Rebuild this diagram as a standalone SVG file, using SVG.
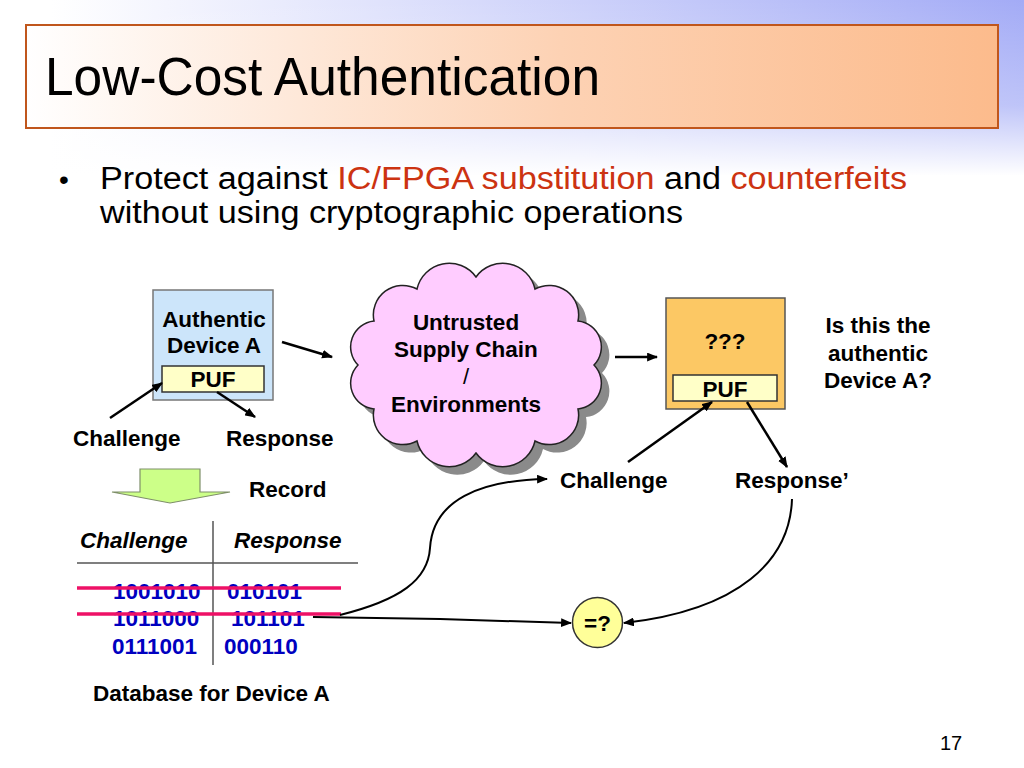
<svg xmlns="http://www.w3.org/2000/svg" width="1024" height="768" viewBox="0 0 1024 768">
<defs>
<linearGradient id="bgH" x1="0" y1="0" x2="1" y2="0">
<stop offset="0.05" stop-color="#ffffff"/>
<stop offset="1" stop-color="#a3abf6"/>
</linearGradient>
<linearGradient id="bgV" x1="0" y1="0" x2="0" y2="1">
<stop offset="0" stop-color="#ffffff" stop-opacity="0"/>
<stop offset="0.6" stop-color="#ffffff" stop-opacity="0.3"/>
<stop offset="1" stop-color="#ffffff" stop-opacity="1"/>
</linearGradient>
<linearGradient id="titleG" x1="0" y1="0" x2="1" y2="0">
<stop offset="0" stop-color="#ffffff"/>
<stop offset="0.55" stop-color="#fdd2b4"/>
<stop offset="1" stop-color="#fcbb8c"/>
</linearGradient>
<marker id="ah" viewBox="0 0 10 8" refX="9" refY="4" markerWidth="11" markerHeight="9" markerUnits="userSpaceOnUse" orient="auto">
<path d="M0,0 L10,4 L0,8 z" fill="#000"/>
</marker>
<path id="cloud" d="M358,365 A26,26 0 0 1 374,321 A29.5,29.5 0 0 1 417,289 A33,33 0 0 1 476,277 A33,33 0 0 1 535,289 A29.5,29.5 0 0 1 578,321 A26,26 0 0 1 594,365 A26,26 0 0 1 578,409 A29.5,29.5 0 0 1 535,441 A33,33 0 0 1 476,453 A33,33 0 0 1 417,441 A29.5,29.5 0 0 1 374,409 A26,26 0 0 1 358,365 Z"/>
</defs>
<style>
text{font-family:"Liberation Sans",Arial,sans-serif;}
.b{font-weight:bold;font-size:22.5px;fill:#000;}
.bi{font-weight:bold;font-style:italic;font-size:22.5px;fill:#000;}
.num{font-weight:bold;font-size:22.5px;fill:#0000c0;}
.thin{font-weight:normal;font-size:22px;fill:#000;}
.red{fill:#cc3311;}
.conn{fill:none;stroke:#000;stroke-width:2.5;}
.curve{fill:none;stroke:#000;stroke-width:2;}
.puf{fill:#ffffc8;stroke:#333;stroke-width:1.5;}
.strike{stroke:#ee1166;stroke-width:3.5;}
</style>

<rect x="0" y="0" width="1024" height="768" fill="#fff"/>
<rect x="0" y="0" width="1024" height="175" fill="url(#bgH)"/>
<rect x="0" y="0" width="1024" height="176" fill="url(#bgV)"/>

<g id="title">
<rect x="26" y="25" width="972" height="103" fill="url(#titleG)" stroke="#c0561c" stroke-width="2"/>
<text x="45" y="95" font-size="53" textLength="555" lengthAdjust="spacingAndGlyphs" fill="#000">Low-Cost Authentication</text>
</g>

<g id="bullet">
<text x="59" y="189" font-size="28" fill="#000">•</text>
<text x="100" y="189" font-size="31" fill="#000" textLength="807" lengthAdjust="spacingAndGlyphs">Protect against <tspan class="red">IC/FPGA substitution</tspan> and <tspan class="red">counterfeits</tspan></text>
<text x="100" y="223" font-size="31" fill="#000" textLength="583" lengthAdjust="spacingAndGlyphs">without using cryptographic operations</text>
</g>

<g id="authentic-device">
<rect x="153" y="290" width="120" height="110" fill="#cce5fa" stroke="#777" stroke-width="1.5"/>
<text class="b" x="214" y="327" text-anchor="middle">Authentic</text>
<text class="b" x="214" y="353" text-anchor="middle">Device A</text>
<rect class="puf" x="162" y="366" width="102" height="26"/>
<text class="b" x="213" y="387" text-anchor="middle">PUF</text>
</g>

<g id="cloud-node">
<use href="#cloud" transform="translate(8,8)" fill="#8a8a8a"/>
<use href="#cloud" fill="#ffccff" stroke="#222" stroke-width="1.5"/>
<text class="b" x="466" y="330" text-anchor="middle">Untrusted</text>
<text class="b" x="466" y="357" text-anchor="middle">Supply Chain</text>
<text class="thin" x="466" y="384" text-anchor="middle">/</text>
<text class="b" x="466" y="412" text-anchor="middle">Environments</text>
</g>

<g id="unknown-device">
<rect x="666" y="298" width="119" height="111" fill="#fcc864" stroke="#555" stroke-width="1.5"/>
<text class="b" x="725" y="349" text-anchor="middle">???</text>
<rect class="puf" x="673" y="375" width="104" height="26"/>
<text class="b" x="725" y="397" text-anchor="middle">PUF</text>
</g>

<g id="question">
<text class="b" x="878" y="333" text-anchor="middle">Is this the</text>
<text class="b" x="878" y="361" text-anchor="middle">authentic</text>
<text class="b" x="878" y="388" text-anchor="middle">Device A?</text>
</g>

<g id="labels">
<text class="b" x="73" y="446">Challenge</text>
<text class="b" x="226" y="446">Response</text>
<text class="b" x="249" y="497">Record</text>
<text class="b" x="560" y="488">Challenge</text>
<text class="b" x="735" y="488">Response’</text>
</g>

<g id="record-arrow">
<path d="M140,469 L200,469 L200,492 L230,492 L170,503 L112,492 L140,492 Z" fill="#ccff88" stroke="#7f8f6a" stroke-width="1.2"/>
</g>

<g id="database">
<text class="bi" x="80" y="548">Challenge</text>
<text class="bi" x="234" y="548">Response</text>
<line x1="213" y1="521" x2="213" y2="665" stroke="#555" stroke-width="1.5"/>
<line x1="77" y1="563" x2="358" y2="563" stroke="#555" stroke-width="1.5"/>
<text class="num" x="113" y="599">1001010</text>
<text class="num" x="227" y="599">010101</text>
<text class="num" x="113" y="626">1011000</text>
<text class="num" x="231" y="626">101101</text>
<text class="num" x="112" y="654">0111001</text>
<text class="num" x="224" y="654">000110</text>
<line class="strike" x1="77" y1="588" x2="341" y2="588"/>
<line class="strike" x1="77" y1="614" x2="341" y2="614"/>
<text class="b" x="93" y="701">Database for Device A</text>
</g>

<g id="compare">
<circle cx="597.5" cy="622.5" r="25" fill="#ffff99" stroke="#333" stroke-width="1.5"/>
<text class="b" x="597.5" y="631" text-anchor="middle">=?</text>
</g>

<g id="connectors">
<line class="conn" x1="110" y1="418" x2="162" y2="383" marker-end="url(#ah)"/>
<line class="conn" x1="217" y1="392" x2="255" y2="417" marker-end="url(#ah)"/>
<line class="conn" x1="282" y1="342" x2="332" y2="357" marker-end="url(#ah)"/>
<line class="conn" x1="615" y1="357" x2="657" y2="357" marker-end="url(#ah)"/>
<line class="conn" x1="628" y1="462" x2="712" y2="402" marker-end="url(#ah)"/>
<line class="conn" x1="747" y1="402" x2="787" y2="467" marker-end="url(#ah)"/>
<path class="curve" d="M313,617 L440,619 L571,623" marker-end="url(#ah)"/>
<path class="curve" d="M340,615 C400,600 428,580 430,548 C433,500 480,480 547,479" marker-end="url(#ah)"/>
<path class="curve" d="M792,499 C790,560 740,610 624,623" marker-end="url(#ah)"/>
</g>

<text x="940" y="750" font-size="20" fill="#000">17</text>
</svg>
